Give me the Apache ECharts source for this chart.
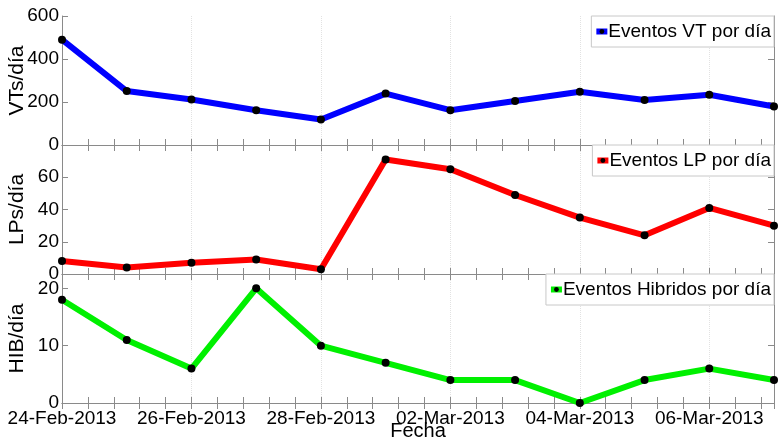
<!DOCTYPE html>
<html>
<head>
<meta charset="utf-8">
<script src="https://cdn.jsdelivr.net/npm/echarts@6/dist/echarts.min.js"></script>
<style>
  html, body { margin: 0; padding: 0; background: #fff; }
  #chart { width: 779px; height: 439px; }
</style>
</head>
<body>
<div id="chart"></div>
<script>
const days = ['2013-02-24', '2013-02-25', '2013-02-26', '2013-02-27', '2013-02-28', '2013-03-01',
  '2013-03-02', '2013-03-03', '2013-03-04', '2013-03-05', '2013-03-06', '2013-03-07'];
const vtValues = [490, 251, 212, 162, 119, 239, 162, 205, 248, 209, 234, 179];
const lpValues = [8, 4, 7, 9, 3, 71, 65, 49, 35, 24, 41, 30];
const hibValues = [18, 11, 6, 20, 10, 7, 4, 4, 0, 4, 6, 4];

const panels = [
  { name: 'Eventos VT por día', axisName: 'VTs/día', values: vtValues, color: '#0000ff', max: 600, interval: 200 },
  { name: 'Eventos LP por día', axisName: 'LPs/día', values: lpValues, color: '#ff0000', max: 80, interval: 20 },
  { name: 'Eventos Hibridos por día', axisName: 'HIB/día', values: hibValues, color: '#00f000', max: 22.5, interval: 10 }
];

const MONTHS = ['Jan', 'Feb', 'Mar', 'Apr', 'May', 'Jun', 'Jul', 'Aug', 'Sep', 'Oct', 'Nov', 'Dec'];
const DAY = 86400000;
const toTime = (s) => {
  const [y, m, d] = s.split('-').map(Number);
  return Date.UTC(y, m - 1, d);
};
const xMin = toTime(days[0]);
const xMax = toTime(days[days.length - 1]);

const FONT = '"Liberation Sans", Arial, Helvetica, sans-serif';
const AXIS_GRAY = '#8a8a8a';

// only every second day gets a label, the 0.4-day ticks stay bare
function formatDate(value) {
  const n = (value - xMin) / DAY;
  if (Math.abs(n - Math.round(n)) > 1e-6 || Math.round(n) % 2 !== 0) {
    return '';
  }
  const d = new Date(value);
  const dd = String(d.getUTCDate()).padStart(2, '0');
  return `${dd}-${MONTHS[d.getUTCMonth()]}-${d.getUTCFullYear()}`;
}

const gridTops = [16, 145, 274];
const gridHeight = 129;

const grid = [];
const xAxis = [];
const yAxis = [];
const series = [];
const legend = [];

panels.forEach((p, i) => {
  grid.push({
    left: 62,
    right: 5,
    top: gridTops[i],
    height: gridHeight,
    containLabel: false,
    outerBoundsMode: 'none'
  });

  xAxis.push({
    gridIndex: i,
    type: 'value',
    position: 'bottom',
    min: xMin,
    max: xMax,
    interval: 0.4 * DAY,
    axisLine: { show: true, lineStyle: { color: AXIS_GRAY, width: 1 } },
    axisTick: { show: true, inside: true, length: 6, lineStyle: { color: AXIS_GRAY } },
    axisLabel: {
      show: i === 2,
      formatter: formatDate,
      color: '#000',
      fontFamily: FONT,
      fontSize: 19,
      margin: 6
    },
    splitLine: {
      show: true,
      lineStyle: {
        color: ['#e2e2e2', 'transparent', 'transparent', 'transparent', 'transparent'],
        type: 'dotted',
        width: 1
      }
    },
    name: i === 2 ? 'Fecha' : '',
    nameLocation: 'middle',
    nameGap: 18,
    nameMoveOverlap: false,
    nameTextStyle: { color: '#000', fontFamily: FONT, fontSize: 20 }
  });
  xAxis.push({
    gridIndex: i,
    type: 'value',
    position: 'top',
    min: xMin,
    max: xMax,
    interval: 0.4 * DAY,
    axisLine: { show: true, lineStyle: { color: AXIS_GRAY, width: 1 } },
    axisTick: { show: true, inside: true, length: 6, lineStyle: { color: AXIS_GRAY } },
    axisLabel: { show: false },
    splitLine: { show: false }
  });

  yAxis.push({
    gridIndex: i,
    type: 'value',
    position: 'left',
    min: 0,
    max: p.max,
    interval: p.interval,
    axisLine: { show: true, lineStyle: { color: AXIS_GRAY, width: 1 } },
    axisTick: { show: true, inside: true, length: 6, lineStyle: { color: AXIS_GRAY } },
    axisLabel: {
      color: '#000',
      fontFamily: FONT,
      fontSize: 19,
      margin: 3,
      showMaxLabel: i === 0
    },
    splitLine: { show: false },
    name: p.axisName,
    nameLocation: 'middle',
    nameRotate: 90,
    nameGap: 34,
    nameMoveOverlap: false,
    nameTextStyle: { color: '#000', fontFamily: FONT, fontSize: 21 }
  });
  yAxis.push({
    gridIndex: i,
    type: 'value',
    position: 'right',
    min: 0,
    max: p.max,
    interval: p.interval,
    axisLine: { show: true, lineStyle: { color: AXIS_GRAY, width: 1 } },
    axisTick: { show: true, inside: true, length: 6, lineStyle: { color: AXIS_GRAY } },
    axisLabel: { show: false },
    splitLine: { show: false }
  });

  series.push({
    name: p.name,
    type: 'line',
    xAxisIndex: i * 2,
    yAxisIndex: i * 2,
    symbol: 'circle',
    symbolSize: 8,
    showSymbol: true,
    itemStyle: { color: '#000' },
    lineStyle: { color: p.color, width: 6 },
    emphasis: { disabled: true },
    animation: false,
    data: days.map((d, k) => [toTime(d), p.values[k]])
  });

  legend.push({
    data: [p.name],
    right: 5,
    top: gridTops[i],
    orient: 'vertical',
    backgroundColor: '#fff',
    borderColor: '#c8c8c8',
    borderWidth: 1,
    borderRadius: 0,
    padding: [6, 3, 6, 2],
    itemWidth: 11,
    itemHeight: 6,
    itemGap: 0,
    selectedMode: false,
    itemStyle: { color: '#000' },
    lineStyle: { color: p.color, width: 6 },
    textStyle: { color: '#000', fontFamily: FONT, fontSize: 19, padding: [0, 0, 0, -4] }
  });
});

const chart = echarts.init(document.getElementById('chart'), null, { renderer: 'canvas' });
chart.setOption({
  backgroundColor: '#fff',
  animation: false,
  grid,
  xAxis,
  yAxis,
  legend,
  series
});
</script>
</body>
</html>
